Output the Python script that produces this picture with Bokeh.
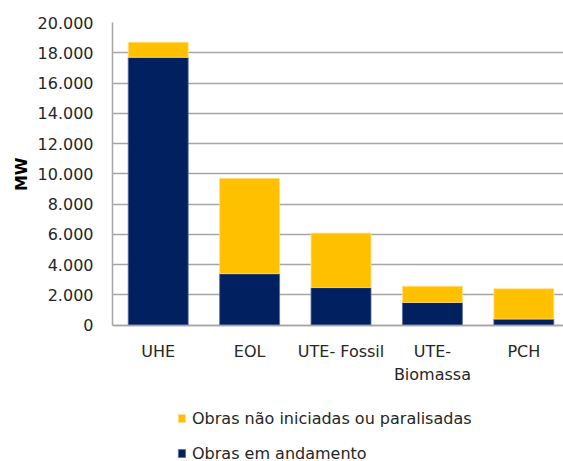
from bokeh.plotting import figure
from bokeh.models import (Range1d, FixedTicker, Legend, LegendItem,
                          ColumnDataSource, Title)
from bokeh.embed import file_html
from bokeh.resources import INLINE

categories = ["UHE", "EOL", "UTE- Fossil", "UTE-\nBiomassa", "PCH"]
obras_em_andamento = [17700, 3400, 2480, 1500, 400]
obras_nao_iniciadas = [1000, 6300, 3600, 1070, 2000]
y_ticks = [0, 2000, 4000, 6000, 8000, 10000, 12000, 14000, 16000, 18000, 20000]
y_tick_labels = ["0", "2.000", "4.000", "6.000", "8.000", "10.000", "12.000",
                 "14.000", "16.000", "18.000", "20.000"]
series_names = ["Obras não iniciadas ou paralisadas", "Obras em andamento"]
y_title = "MW"

NAVY = "#002060"
YELLOW = "#FFC000"
GRID = "#a6a6a6"
TEXT = "#262626"
FONT = "DejaVu Sans"

x_pos = [i + 0.5 for i in range(len(categories))]
source = ColumnDataSource(dict(x=x_pos, andamento=obras_em_andamento,
                               nao=obras_nao_iniciadas))

# the frame extends below zero to host the category labels and the legend
p = figure(width=563, height=461, output_backend="svg", toolbar_location=None,
           x_range=Range1d(0, 4.934), y_range=Range1d(-9015, 20000),
           min_border_left=112, min_border_right=0, min_border_top=22,
           min_border_bottom=0)
p.outline_line_color = None

rs = p.vbar_stack(["andamento", "nao"], x="x", width=0.656, source=source,
                  color=[NAVY, YELLOW], line_color=["#5a6d9c", "#ffe08a"],
                  line_width=0.8)

# x axis sits at y = 0
p.xaxis.fixed_location = 0
p.xaxis.ticker = FixedTicker(ticks=x_pos)
p.xaxis.major_label_overrides = {x: c for x, c in zip(x_pos, categories)}
p.xaxis.major_tick_line_color = None
p.xaxis.minor_tick_line_color = None
p.xaxis.axis_line_color = GRID
p.xaxis.axis_line_width = 1.5
p.xaxis.major_label_standoff = 11
p.xaxis.major_label_text_font = FONT
p.xaxis.major_label_text_font_size = "16px"
p.xaxis.major_label_text_color = TEXT

p.yaxis.bounds = (0, 20000)
p.yaxis.ticker = FixedTicker(ticks=y_ticks)
p.yaxis.major_label_overrides = {t: l for t, l in zip(y_ticks, y_tick_labels)}
p.yaxis.major_tick_out = 0
p.yaxis.major_tick_in = 0
p.yaxis.minor_tick_line_color = None
p.yaxis.axis_line_color = GRID
p.yaxis.axis_line_width = 1.5
p.yaxis.major_label_standoff = 19
p.yaxis.major_label_text_font = FONT
p.yaxis.major_label_text_font_size = "16px"
p.yaxis.major_label_text_color = TEXT

p.add_layout(Title(text=y_title, align="right", offset=135,
                   vertical_align="middle", standoff=6,
                   text_font=FONT, text_font_size="16px",
                   text_font_style="bold", text_color="#000000"), "left")

p.xgrid.grid_line_color = None
p.ygrid.grid_line_color = GRID
p.ygrid.grid_line_width = 1.5

legend = Legend(items=[LegendItem(label=series_names[0], renderers=[rs[1]]),
                       LegendItem(label=series_names[1], renderers=[rs[0]])],
                location=(65, -2), orientation="vertical",
                border_line_color=None, background_fill_alpha=0,
                padding=0, margin=0, spacing=15,
                glyph_width=9, glyph_height=10, label_height=20,
                label_standoff=6,
                label_text_font=FONT, label_text_font_size="16px",
                label_text_color=TEXT)
p.add_layout(legend, "center")

open("out.html", "w").write(file_html(p, INLINE))
